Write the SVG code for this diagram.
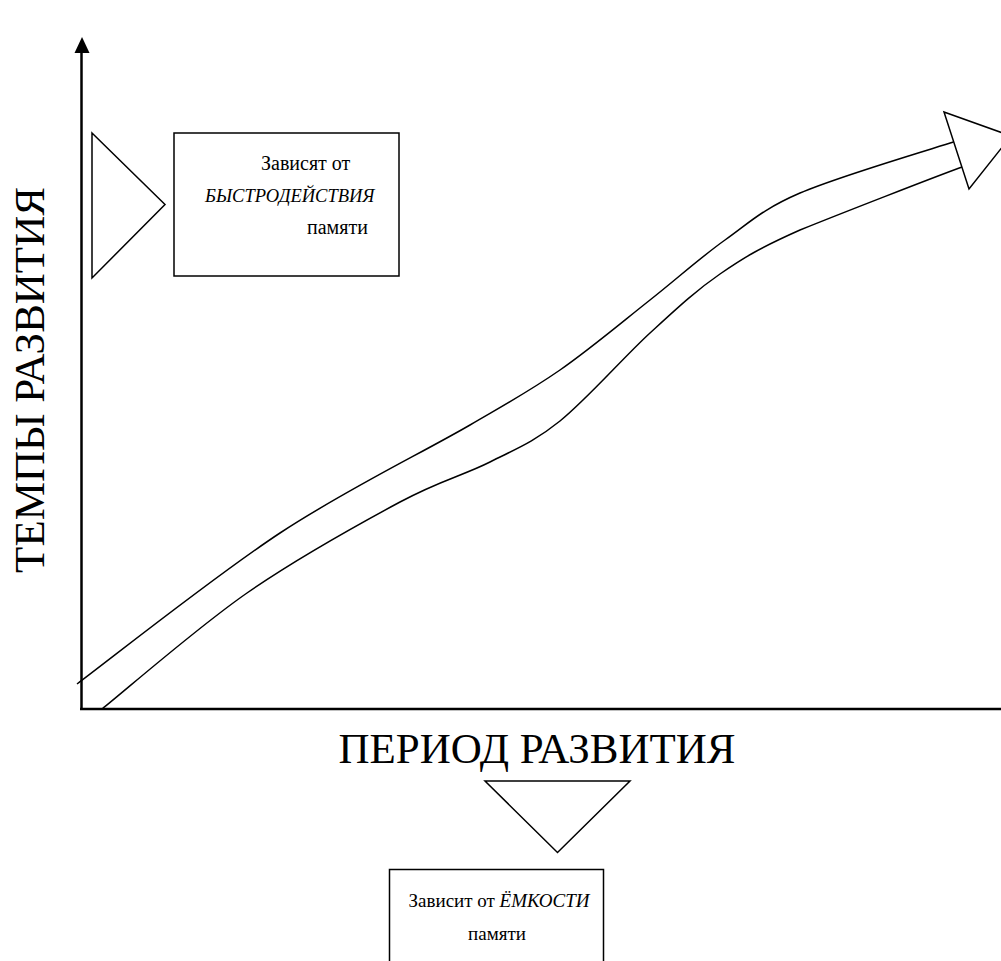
<svg xmlns="http://www.w3.org/2000/svg" width="1001" height="961" viewBox="0 0 1001 961">
  <style>
    .ln { fill: none; stroke: #000; stroke-width: 1.5; }
    .ax { fill: none; stroke: #000; stroke-width: 2.5; }
    .shape { fill: #fff; stroke: #000; stroke-width: 1.5; }
    .lbl { font-family: "Liberation Serif", "Times New Roman", serif; fill: #000; }
    .big { font-size: 43px; }
    .small { font-size: 20px; }
    .note { font-size: 19px; }
    .caps { font-size: 18.5px; }
    .it { font-style: italic; }
  </style>
  <rect width="1001" height="961" fill="#fff"/>

  <!-- axes -->
  <g id="axes">
    <line class="ax" x1="81.5" y1="709" x2="81.5" y2="50"/>
    <path d="M82,37 L74.5,53 L89.5,53 Z" fill="#000"/>
    <line class="ax" x1="80" y1="709" x2="1001" y2="709"/>
  </g>

  <!-- axis captions -->
  <g id="axis-labels">
    <text class="lbl big" x="537" y="763" text-anchor="middle">ПЕРИОД РАЗВИТИЯ</text>
    <text class="lbl big" transform="translate(44,380) rotate(-90)" text-anchor="middle">ТЕМПЫ РАЗВИТИЯ</text>
  </g>

  <!-- growth band with arrow head -->
  <g id="connectors">
    <path class="ln" d="M77,684 C110.8,658.8 214.5,576.2 280,533 C345.5,489.8 423.3,452.2 470,425 C516.7,397.8 530,390.8 560,370 C590,349.2 622.5,321.7 650,300 C677.5,278.3 700,257.8 725,240 C750,222.2 762.2,209.3 800,193 C837.8,176.7 926.7,150.5 953.5,142"/>
    <path class="ln" d="M102,709 C126.2,689.7 197.3,627.5 247,593 C296.7,558.5 359.5,523.8 400,502 C440.5,480.2 463.3,475.5 490,462 C516.7,448.5 533.3,442.5 560,421 C586.7,399.5 623.3,357.5 650,333 C676.7,308.5 695,291.2 720,274 C745,256.8 760,247.8 800,230 C840,213.8 933.3,177.5 962,167"/>
    <path class="shape" d="M944,112 L1011,136 L969,189 Z"/>
  </g>

  <!-- speed node -->
  <g id="node-speed">
    <path class="shape" d="M92,133 L165,204.5 L92,278 Z"/>
    <rect class="shape" x="174" y="133" width="225" height="143"/>
    <text class="lbl small" x="261" y="170">Зависят от</text>
    <text class="lbl caps it" x="205" y="202">БЫСТРОДЕЙСТВИЯ</text>
    <text class="lbl small" x="307" y="234">памяти</text>
  </g>

  <!-- capacity node -->
  <g id="node-capacity">
    <path class="shape" d="M485,781 L630,781 L557.5,852.5 Z"/>
    <path class="shape" d="M389.5,962 L389.5,869.5 L603.5,869.5 L603.5,962"/>
    <text class="lbl note" x="499" y="907" text-anchor="middle">Зависит от <tspan class="it">ЁМКОСТИ</tspan></text>
    <text class="lbl note" x="497" y="940" text-anchor="middle">памяти</text>
  </g>
</svg>
